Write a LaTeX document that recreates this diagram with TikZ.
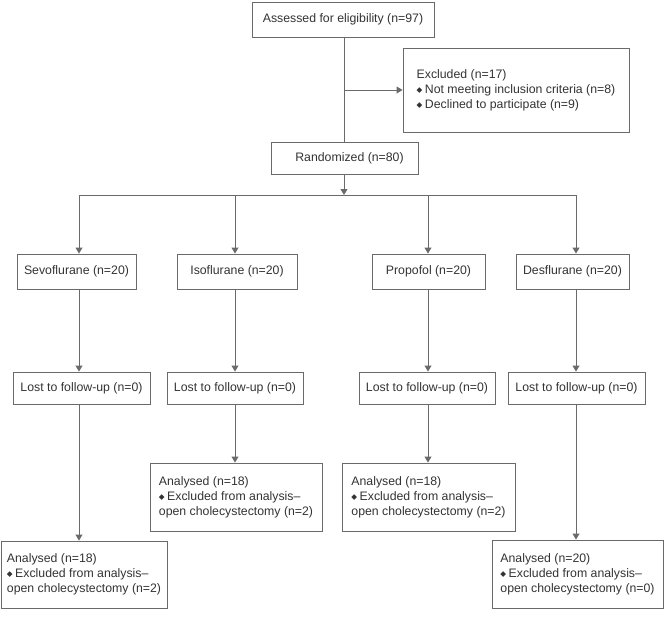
\documentclass[tikz,border=0pt]{standalone}
\usepackage{fontspec}
\setmainfont{Liberation Sans}
\newfontfamily\djfont{DejaVu Sans}
\usetikzlibrary{arrows.meta}
\definecolor{linec}{HTML}{6A6A6A}
\definecolor{textc}{HTML}{333333}
\newcommand\dmd{\raisebox{0.15ex}{\djfont\fontsize{7.5}{7.5}\selectfont ◆}\hspace{2.5pt}}
\begin{document}
\begin{tikzpicture}[x=1pt,y=-1pt,
  box/.style={draw=linec, line width=0.9pt, inner sep=0pt, text=textc,
    font=\fontsize{12.3}{15}\selectfont, align=left},
  ln/.style={draw=linec, line width=0.9pt},
  arr/.style={ln, -{Triangle[width=7pt,length=6pt]}}]
\useasboundingbox (0,0) rectangle (664,616);

\node[box, minimum width=182pt, minimum height=35pt] (assess) at (343,19.5) {Assessed for eligibility (n=97)};
\node[box, minimum width=226pt, minimum height=84pt] (excl) at (516,90) {Excluded (n=17)\\\dmd Not meeting inclusion criteria (n=8)\\\dmd Declined to participate (n=9)};
\node[box, minimum width=147pt, minimum height=32pt] (rand) at (344.5,158) {\hspace{10pt}Randomized (n=80)};

\node[box, minimum width=119pt, minimum height=35pt] (sevo) at (76.5,271.5) {Sevoflurane (n=20)};
\node[box, minimum width=120pt, minimum height=35pt] (iso) at (237,271.5) {Isoflurane (n=20)};
\node[box, minimum width=113pt, minimum height=35pt] (prop) at (428.5,271.5) {Propofol (n=20)};
\node[box, minimum width=113pt, minimum height=35pt] (desf) at (572.5,271.5) {Desflurane (n=20)};

\node[box, minimum width=137pt, minimum height=32pt] (lost1) at (81.5,388) {Lost to follow-up (n=0)};
\node[box, minimum width=136pt, minimum height=32pt] (lost2) at (235,388) {Lost to follow-up (n=0)};
\node[box, minimum width=136pt, minimum height=32pt] (lost3) at (427,388) {Lost to follow-up (n=0)};
\node[box, minimum width=137pt, minimum height=32pt] (lost4) at (576.5,388) {Lost to follow-up (n=0)};

\node[box, minimum width=166pt, minimum height=67pt] (an1) at (84,574.5) {Analysed (n=18)\\\dmd Excluded from analysis–\\open cholecystectomy (n=2)};
\node[box, minimum width=172pt, minimum height=68pt] (an2) at (236,497) {Analysed (n=18)\\\dmd Excluded from analysis–\\open cholecystectomy (n=2)};
\node[box, minimum width=173pt, minimum height=68pt] (an3) at (428.5,497) {Analysed (n=18)\\\dmd Excluded from analysis–\\open cholecystectomy (n=2)};
\node[box, minimum width=171pt, minimum height=68pt] (an4) at (577.5,574) {Analysed (n=20)\\\dmd Excluded from analysis–\\open cholecystectomy (n=0)};

\coordinate (tr) at (344,90);
\coordinate (hb) at (344,195);
\coordinate (b1) at (79,195);
\coordinate (b2) at (235,195);
\coordinate (b3) at (428,195);
\coordinate (b4) at (576,195);

\draw[ln] (assess.south -| tr) -- (rand.north -| tr);
\draw[arr] (tr) -- (excl.west |- tr);
\draw[arr] (rand.south -| tr) -- (hb);
\draw[ln] (b1) -- (b4);

\draw[arr] (b1) -- (sevo.north -| b1);
\draw[arr] (b2) -- (iso.north -| b2);
\draw[arr] (b3) -- (prop.north -| b3);
\draw[arr] (b4) -- (desf.north -| b4);

\draw[arr] (sevo.south -| b1) -- (lost1.north -| b1);
\draw[arr] (iso.south -| b2) -- (lost2.north -| b2);
\draw[arr] (prop.south -| b3) -- (lost3.north -| b3);
\draw[arr] (desf.south -| b4) -- (lost4.north -| b4);

\draw[arr] (lost1.south -| b1) -- (an1.north -| b1);
\draw[arr] (lost2.south -| b2) -- (an2.north -| b2);
\draw[arr] (lost3.south -| b3) -- (an3.north -| b3);
\draw[arr] (lost4.south -| b4) -- (an4.north -| b4);
\end{tikzpicture}
\end{document}
